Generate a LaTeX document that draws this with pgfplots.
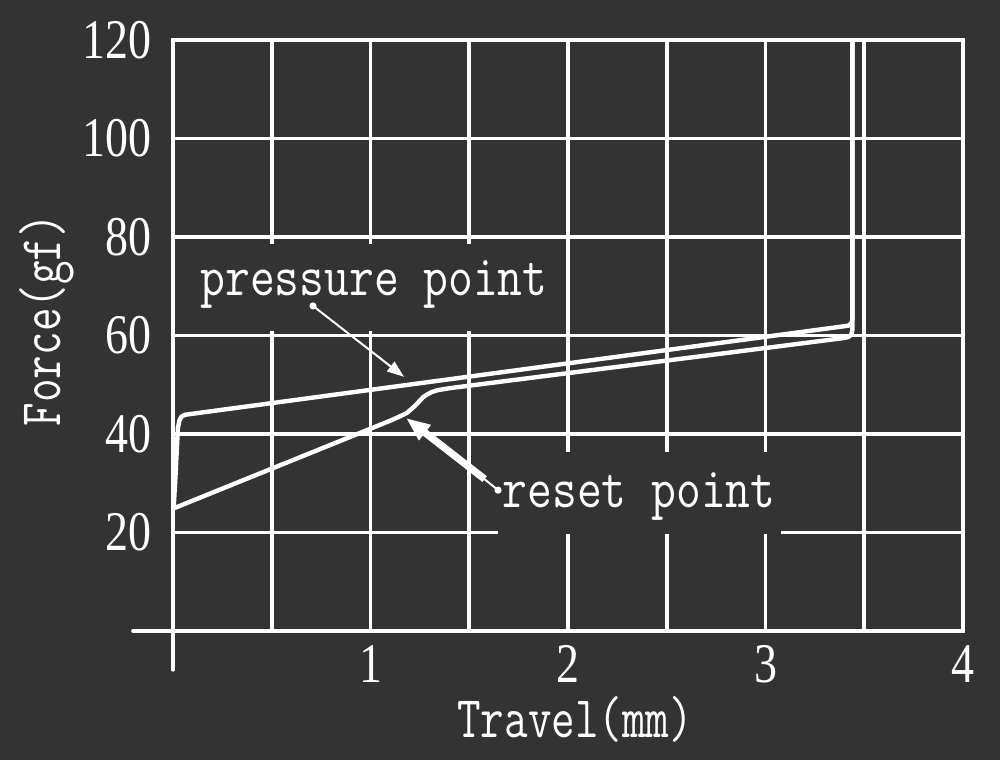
\documentclass[border=0pt]{standalone}
\usepackage{fontspec}
\usepackage{pgfplots}
\pgfplotsset{compat=1.18}
\usetikzlibrary{arrows.meta}
\setmainfont{Liberation Serif}
\newfontfamily\tickfont[FakeStretch=0.82]{Liberation Serif}
\newfontfamily\labfont[FakeStretch=0.775]{Latin Modern Mono}
\newfontfamily\annfont[FakeStretch=0.83]{Latin Modern Mono}
\definecolor{bg}{HTML}{333333}

\begin{document}
\begin{tikzpicture}
\path[use as bounding box, fill=bg] (-86.5pt,-64.5pt) rectangle (413.5pt,315.5pt);
\begin{axis}[
  at={(0pt,0pt)}, anchor=south west,
  scale only axis, width=395pt, height=295.5pt,
  xmin=0, xmax=4, ymin=0, ymax=120,
  clip=false,
  xtick={1,2,3,4}, minor xtick={0.5,1.5,2.5,3.5},
  ytick={20,40,60,80,100,120},
  grid=both,
  major grid style={white, line width=1.8pt},
  minor grid style={white, line width=1.8pt},
  axis line style={white, line width=1.8pt},
  major tick length=0pt, minor tick length=0pt,
  /pgf/number format/assume math mode=true,
  tick label style={text=white, font=\fontsize{28}{30}\tickfont, inner sep=0pt},
  xticklabel style={anchor=north, yshift=-7pt},
  yticklabel style={anchor=east, xshift=-10.5pt},
  xlabel={Travel(mm)}, ylabel={Force(gf)},
  label style={text=white, font=\fontsize{29.5}{31}\labfont, inner sep=0pt},
  xlabel style={at={(axis description cs:0.509,-0.181)}, anchor=base},
  ylabel style={at={(axis description cs:-0.143,0.526)}, anchor=base},
]
% label backgrounds hiding the grid
\fill[bg] (axis cs:0.076,61.0) rectangle (axis cs:1.95,78.5);
\fill[bg] (axis cs:1.646,19.6) rectangle (axis cs:3.078,36.3);

% pressing (upper) curve
\addplot[white, line width=2.2pt, line join=round] coordinates {
  (0.003,24.8) (0.012,31) (0.025,41.3) (0.032,42.7) (0.042,43.5) (0.06,43.9)
  (3.42,62.0) (3.435,62.5) (3.44,63.3) (3.44,120)
};
% return (lower) curve
\addplot[white, line width=2.2pt, line join=round] coordinates {
  (3.44,120) (3.44,61.2) (3.435,60.2) (3.42,59.7) (3.40,59.5)
  (1.40,49.3) (1.37,49.1) (1.34,48.9) (1.31,48.5) (1.29,48.1) (1.267,47.5)
  (1.225,45.7) (1.185,44.3) (1.15,43.6) (1.10,42.7) (0.003,24.9)
};

% axis extensions
\draw[white, line width=1.8pt, line cap=round] (axis cs:-0.2025,0) -- (axis cs:0,0);
\draw[white, line width=1.8pt, line cap=round] (axis cs:0,0) -- (axis cs:0,-7.9);

% pressure point annotation
\draw[white, line width=1pt, -{Triangle[length=8.5pt,width=6pt]}] (axis cs:0.709,66.0) -- (axis cs:1.170,51.6);
\fill[white] (axis cs:0.709,66.0) circle (1.8pt);
\node[text=white, font=\fontsize{29}{31}\annfont, anchor=base, inner sep=0pt] at (axis cs:1.018,68.2) {pressure point};

% reset point annotation
\draw[white, line width=1pt] (axis cs:1.646,28.6) -- (axis cs:1.570,31.07);
\fill[white] (axis cs:1.646,28.6) circle (1.8pt);
\draw[white, line width=3.6pt, -{Triangle[length=12pt,width=9pt]}] (axis cs:1.578,30.85) -- (axis cs:1.180,43.25);
\node[text=white, font=\fontsize{29}{31}\annfont, anchor=base, inner sep=0pt] at (axis cs:2.36,25.0) {reset point};
\end{axis}
\end{tikzpicture}
\end{document}
